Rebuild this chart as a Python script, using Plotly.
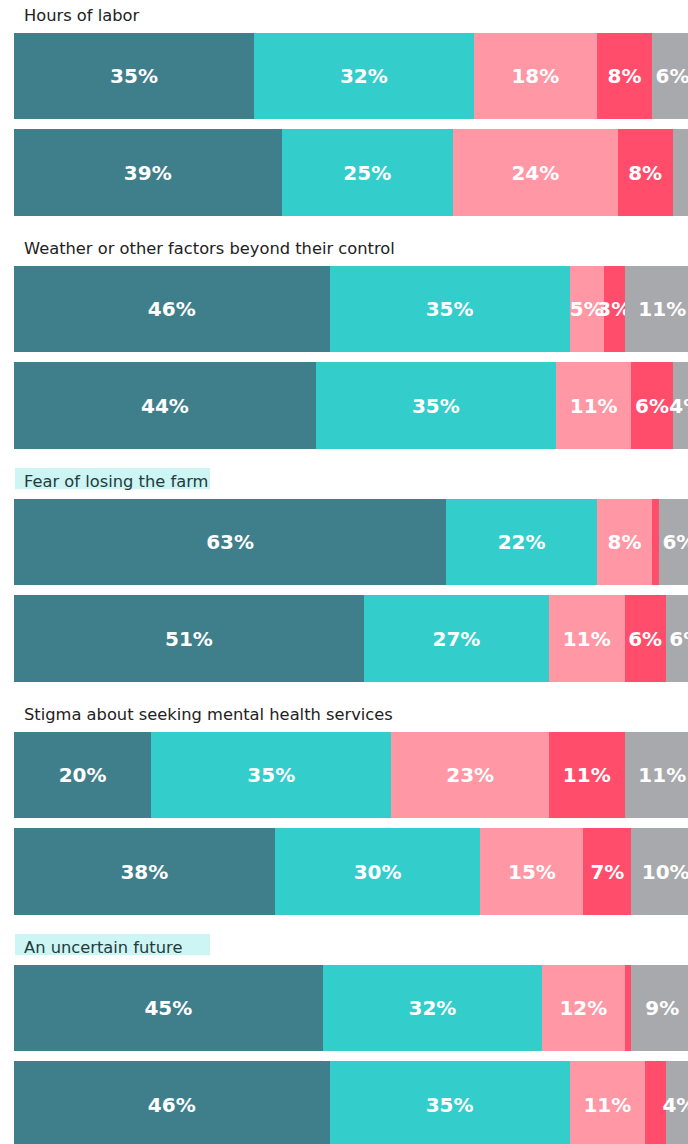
import plotly.graph_objects as go

# Topics, top to bottom; each topic has two stacked bars
topics = [
    "Hours of labor",
    "Weather or other factors beyond their control",
    "Fear of losing the farm",
    "Stigma about seeking mental health services",
    "An uncertain future",
]
highlighted_topics = ["Fear of losing the farm", "An uncertain future"]
rows = ["First survey", "Second survey"]

# Response shares (%), two values per topic in topic order
responses = ["Very", "Somewhat", "Not very", "Not at all", "Not sure"]
very = [35, 39, 46, 44, 63, 51, 20, 38, 45, 46]
somewhat = [32, 25, 35, 35, 22, 27, 35, 30, 32, 35]
not_very = [18, 24, 5, 11, 8, 11, 23, 15, 12, 11]
not_at_all = [8, 8, 3, 6, 1, 6, 11, 7, 1, 3]
not_sure = [6, 4, 11, 4, 6, 6, 11, 10, 9, 4]
series = [very, somewhat, not_very, not_at_all, not_sure]

# segments drawn without a printed value
unlabeled = {("Not at all", 4), ("Not at all", 8), ("Not at all", 9), ("Not sure", 1)}

colors = ["#3F7F8C", "#33CDCC", "#FF97A5", "#FF4D6B", "#A8A9AC"]

# ---- layout geometry (pixels) ----
FIG_W, FIG_H = 688, 1144
LEFT = 14
PX_PER_PCT = 6.86
TOP0 = 27.7        # top of first topic's bar area
GROUP_STEP = 233   # vertical distance between topics
SLOT = 96.7        # height of one category slot
BAR_GAP = 10       # white gap between the two bars

fig = go.Figure()
layout_axes = {}
annotations = []
shapes = []

for g, topic in enumerate(topics):
    yname = "y" if g == 0 else f"y{g + 1}"
    axkey = "yaxis" if g == 0 else f"yaxis{g + 1}"
    top_px = TOP0 + GROUP_STEP * g
    bot_px = min(top_px + 2 * SLOT, FIG_H)
    span = (bot_px - top_px) / SLOT
    layout_axes[axkey] = dict(
        domain=[1 - bot_px / FIG_H, 1 - top_px / FIG_H],
        anchor="x",
        type="category",
        categoryarray=rows,
        range=[-0.5 + span, -0.5],
        visible=False,
        fixedrange=True,
    )

    for name, vals, col in zip(responses, series, colors):
        xs = vals[2 * g:2 * g + 2]
        texts = []
        for i, v in enumerate(xs):
            idx = 2 * g + i
            texts.append("" if (name, idx) in unlabeled else f"{v}%")
        fig.add_trace(go.Bar(
            y=rows,
            x=xs,
            orientation="h",
            yaxis=yname,
            xaxis="x",
            name=name,
            marker=dict(color=col, line=dict(width=0)),
            text=texts,
            textposition="inside",
            insidetextanchor="middle",
            textangle=0,
            constraintext="none",
            cliponaxis=True,
            textfont=dict(color="white", size=20, family="DejaVu Sans", weight="bold"),
            showlegend=False,
            hovertemplate=f"{topic}<br>{name}: %{{x}}%<extra></extra>",
        ))

    is_hl = topic in highlighted_topics
    if is_hl:
        shapes.append(dict(
            type="rect",
            xref="paper", xsizemode="pixel", xanchor=0, x0=1, x1=196,
            yref=f"{yname} domain", ysizemode="pixel", yanchor=1, y0=4.4, y1=25.7,
            fillcolor="#CCF5F3", line=dict(width=0), layer="below",
        ))
    annotations.append(dict(
        text=topic,
        xref="paper", x=0, xshift=8, xanchor="left",
        yref=f"{yname} domain", y=1, yshift=12.4, yanchor="middle",
        showarrow=False,
        font=dict(family="DejaVu Sans", size=16.3, color="#243B3D" if is_hl else "#222222"),
    ))

fig.update_layout(
    width=FIG_W,
    height=FIG_H,
    margin=dict(l=LEFT, r=0, t=0, b=0, pad=0),
    barmode="stack",
    bargap=BAR_GAP / SLOT,
    paper_bgcolor="white",
    plot_bgcolor="white",
    xaxis=dict(
        domain=[0, 1],
        range=[0, (FIG_W - LEFT) / PX_PER_PCT],
        visible=False,
        fixedrange=True,
        anchor="y",
    ),
    annotations=annotations,
    shapes=shapes,
    font=dict(family="DejaVu Sans"),
    **layout_axes,
)

fig.write_html("out.html")
